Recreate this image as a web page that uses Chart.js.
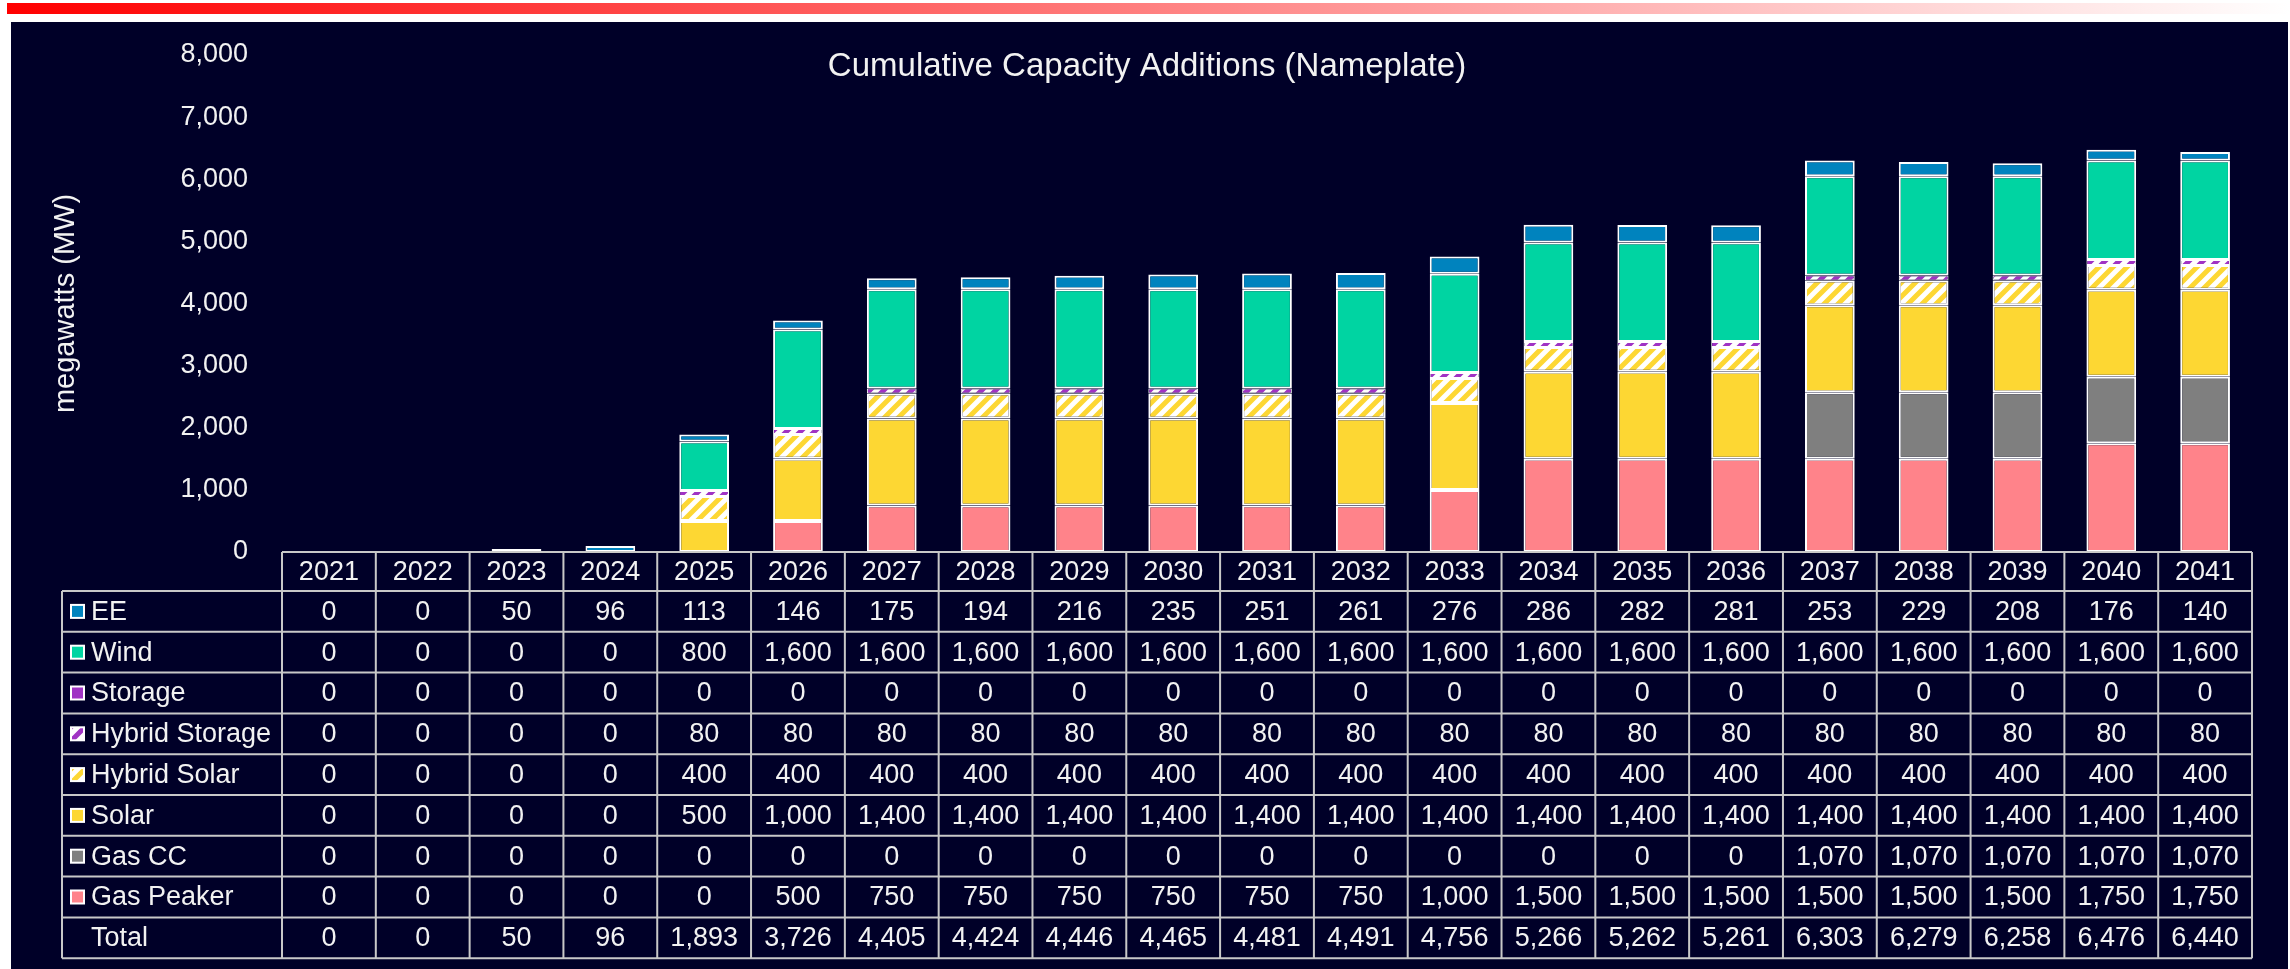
<!DOCTYPE html>
<html>
<head>
<meta charset="utf-8">
<title>Cumulative Capacity Additions</title>
<script src="https://cdn.jsdelivr.net/npm/chart.js@4.4.1/dist/chart.umd.min.js"></script>
<style>
  html, body { margin: 0; padding: 0; background: #ffffff; }
  body { width: 2290px; height: 969px; position: relative; overflow: hidden; }
  .topline {
    position: absolute; left: 7px; top: 3px; width: 2283px; height: 11px;
    background: linear-gradient(to right, #ff0000, #ffffff);
  }
  .panel { position: absolute; left: 11px; top: 22px; right: 2px; bottom: 0; background: #000028; }
  #capacityChart { position: absolute; left: 0; top: 0; }
</style>
</head>
<body>
<div class="topline"></div>
<div class="panel"></div>
<canvas id="capacityChart" width="2290" height="969"></canvas>
<script>
const years = ["2021", "2022", "2023", "2024", "2025", "2026", "2027", "2028", "2029", "2030",
  "2031", "2032", "2033", "2034", "2035", "2036", "2037", "2038", "2039", "2040", "2041"];

const ee = [0, 0, 50, 96, 113, 146, 175, 194, 216, 235, 251, 261, 276, 286, 282, 281, 253, 229, 208, 176, 140];
const wind = [0, 0, 0, 0, 800, 1600, 1600, 1600, 1600, 1600, 1600, 1600, 1600, 1600, 1600, 1600, 1600, 1600, 1600, 1600, 1600];
const storage = [0, 0, 0, 0, 0, 0, 0, 0, 0, 0, 0, 0, 0, 0, 0, 0, 0, 0, 0, 0, 0];
const hybridStorage = [0, 0, 0, 0, 80, 80, 80, 80, 80, 80, 80, 80, 80, 80, 80, 80, 80, 80, 80, 80, 80];
const hybridSolar = [0, 0, 0, 0, 400, 400, 400, 400, 400, 400, 400, 400, 400, 400, 400, 400, 400, 400, 400, 400, 400];
const solar = [0, 0, 0, 0, 500, 1000, 1400, 1400, 1400, 1400, 1400, 1400, 1400, 1400, 1400, 1400, 1400, 1400, 1400, 1400, 1400];
const gasCC = [0, 0, 0, 0, 0, 0, 0, 0, 0, 0, 0, 0, 0, 0, 0, 0, 1070, 1070, 1070, 1070, 1070];
const gasPeaker = [0, 0, 0, 0, 0, 500, 750, 750, 750, 750, 750, 750, 1000, 1500, 1500, 1500, 1500, 1500, 1500, 1750, 1750];
const total = [0, 0, 50, 96, 1893, 3726, 4405, 4424, 4446, 4465, 4481, 4491, 4756, 5266, 5262, 5261, 6303, 6279, 6258, 6476, 6440];

const FONT = '"Liberation Sans", Arial, sans-serif';
const TEXT = "#f2f2f2";
Chart.defaults.font.family = FONT;
Chart.defaults.color = TEXT;

// white tile with "/" stripes, used for the hybrid series
const makeStripes = (color) => {
  const s = 14;
  const tile = document.createElement("canvas");
  tile.width = s;
  tile.height = s;
  const g = tile.getContext("2d");
  g.fillStyle = "#ffffff";
  g.fillRect(0, 0, s, s);
  g.strokeStyle = color;
  g.lineWidth = 5;
  g.beginPath();
  g.moveTo(-s / 2, s / 2); g.lineTo(s / 2, -s / 2);
  g.moveTo(0, s); g.lineTo(s, 0);
  g.moveTo(s / 2, s * 1.5); g.lineTo(s * 1.5, s / 2);
  g.stroke();
  return g.createPattern(tile, "repeat");
};

const hybridStorageFill = makeStripes("#a033c4");
const hybridSolarFill = makeStripes("#fdd733");

// table order, top to bottom
const rows = [
  { label: "EE", values: ee, fill: "#0083be" },
  { label: "Wind", values: wind, fill: "#00d4a2" },
  { label: "Storage", values: storage, fill: "#a033c4" },
  { label: "Hybrid Storage", values: hybridStorage, fill: hybridStorageFill },
  { label: "Hybrid Solar", values: hybridSolar, fill: hybridSolarFill },
  { label: "Solar", values: solar, fill: "#fdd733" },
  { label: "Gas CC", values: gasCC, fill: "#7f7f7f" },
  { label: "Gas Peaker", values: gasPeaker, fill: "#ff838a" },
];

// stacks build from the first dataset up, so reverse the table order
const datasets = rows.slice().reverse().map((row) => ({
  label: row.label,
  data: row.values,
  backgroundColor: row.fill,
  borderColor: "#ffffff",
  borderWidth: row.label === "Hybrid Storage" ? 1 : 2,
  borderSkipped: false,
}));

const chartTitle = {
  id: "chartTitle",
  afterDraw(chart) {
    const { ctx } = chart;
    ctx.save();
    ctx.fillStyle = TEXT;
    ctx.font = `33px ${FONT}`;
    ctx.textAlign = "center";
    ctx.textBaseline = "alphabetic";
    ctx.fillText("Cumulative Capacity Additions (Nameplate)", 1147, 76);
    ctx.restore();
  },
};

// data table under the bars, columns follow the category scale
const dataTable = {
  id: "dataTable",
  afterDraw(chart) {
    const { ctx, chartArea } = chart;
    const x = chart.scales.x;
    const colW = (chartArea.right - chartArea.left) / years.length;
    const top = chartArea.bottom;
    const headBottom = top + 39;
    const rowH = 40.8;
    const legendLeft = 62;
    const allRows = rows.concat([{ label: "Total", values: total, fill: null }]);
    const bottom = headBottom + rowH * allRows.length;

    ctx.save();
    ctx.strokeStyle = "#c8c8c8";
    ctx.lineWidth = 2;
    ctx.beginPath();
    ctx.moveTo(chartArea.left, top);
    ctx.lineTo(chartArea.right, top);
    for (let k = 0; k <= allRows.length; k++) {
      const y = headBottom + k * rowH;
      ctx.moveTo(legendLeft, y);
      ctx.lineTo(chartArea.right, y);
    }
    ctx.moveTo(legendLeft, headBottom);
    ctx.lineTo(legendLeft, bottom);
    for (let j = 0; j <= years.length; j++) {
      const xx = chartArea.left + j * colW;
      ctx.moveTo(xx, top);
      ctx.lineTo(xx, bottom);
    }
    ctx.stroke();

    ctx.fillStyle = TEXT;
    ctx.font = `27px ${FONT}`;
    ctx.textBaseline = "middle";
    ctx.textAlign = "center";
    years.forEach((yr, i) => {
      ctx.fillText(yr, x.getPixelForValue(i), (top + headBottom) / 2 + 1);
    });

    allRows.forEach((row, r) => {
      const cy = headBottom + rowH * (r + 0.5);
      if (row.fill) {
        ctx.fillStyle = "#ffffff";
        ctx.fillRect(70, cy - 7.5, 15, 15);
        ctx.fillStyle = row.fill;
        ctx.fillRect(72, cy - 5.5, 11, 11);
      }
      ctx.fillStyle = TEXT;
      ctx.textAlign = "left";
      ctx.fillText(row.label, 91, cy + 1);
      ctx.textAlign = "center";
      row.values.forEach((v, i) => {
        ctx.fillText(v.toLocaleString("en-US"), x.getPixelForValue(i), cy + 1);
      });
    });
    ctx.restore();
  },
};

new Chart(document.getElementById("capacityChart"), {
  type: "bar",
  data: {
    labels: years,
    datasets: datasets,
  },
  options: {
    responsive: false,
    animation: false,
    layout: {
      padding: { left: 20, right: 38, top: 55, bottom: 417 },
    },
    datasets: {
      bar: { barPercentage: 0.53, categoryPercentage: 1 },
    },
    scales: {
      x: {
        stacked: true,
        display: false,
      },
      y: {
        stacked: true,
        min: 0,
        max: 8000,
        ticks: {
          stepSize: 1000,
          padding: 34,
          color: TEXT,
          font: { size: 27 },
          callback: (value) => value.toLocaleString("en-US"),
        },
        grid: { display: false, drawTicks: false },
        border: { display: false },
        title: {
          display: true,
          text: "megawatts (MW)",
          color: TEXT,
          font: { size: 29 },
          padding: { top: 29, bottom: 0 },
        },
        afterFit: (scale) => {
          scale.width = 262;
        },
      },
    },
    plugins: {
      legend: { display: false },
      tooltip: { enabled: false },
    },
  },
  plugins: [chartTitle, dataTable],
});
</script>
</body>
</html>
